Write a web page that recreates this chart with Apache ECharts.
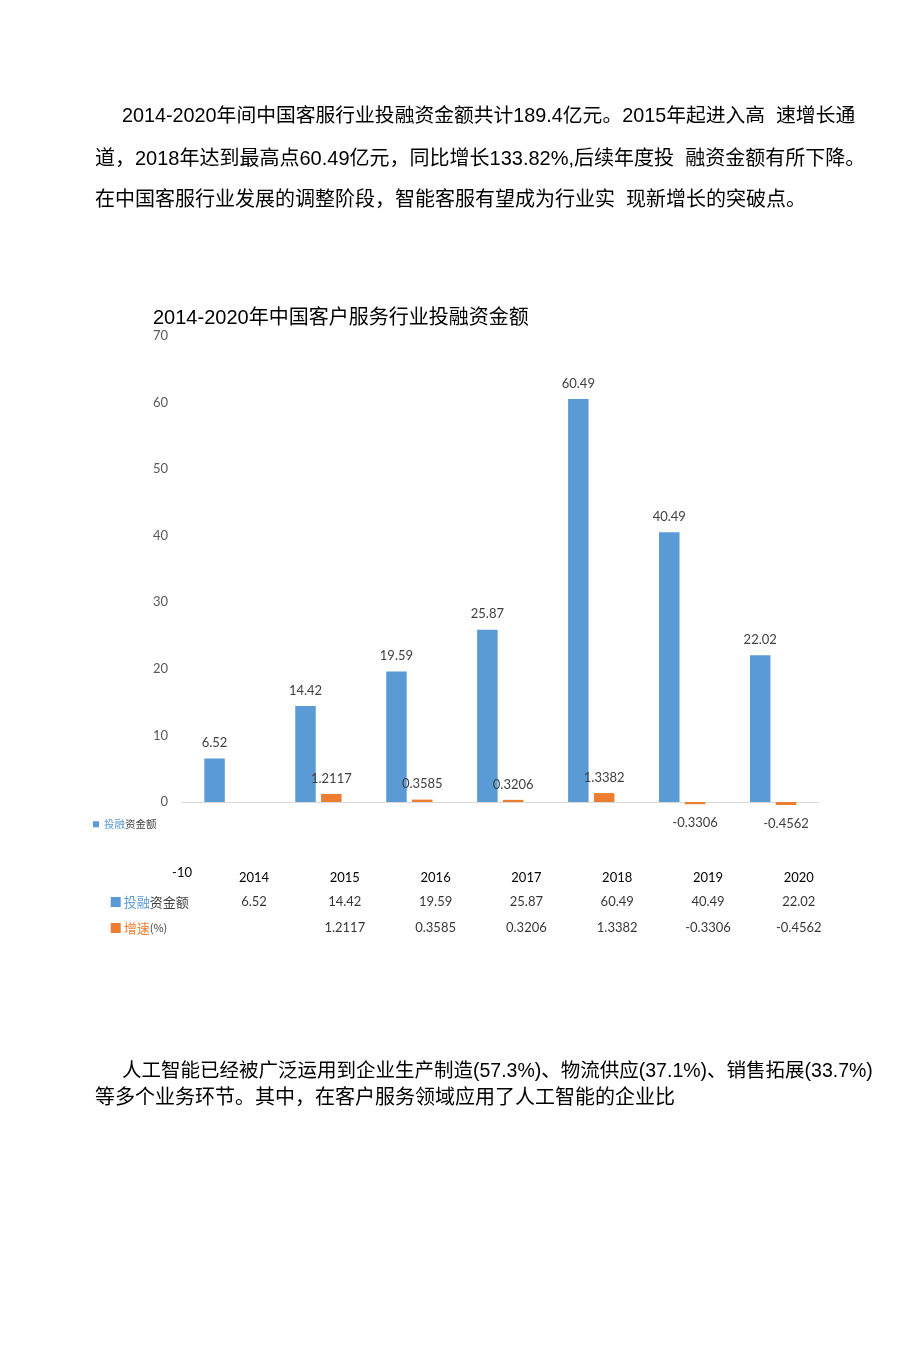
<!DOCTYPE html>
<html>
<head>
<meta charset="utf-8">
<script src="https://cdn.jsdelivr.net/npm/echarts@6/dist/echarts.min.js"></script>
<style>
html,body{margin:0;padding:0;background:#fff;}
#main{width:920px;height:1352px;}
</style>
</head>
<body>
<div id="main"></div>
<script>
const years = ['2014', '2015', '2016', '2017', '2018', '2019', '2020'];
const investment = [6.52, 14.42, 19.59, 25.87, 60.49, 40.49, 22.02];
const growth = [null, 1.2117, 0.3585, 0.3206, 1.3382, -0.3306, -0.4562];
const rowNames = ['投融资金额', '增速(%)'];
const chartTitle = '2014-2020年中国客户服务行业投融资金额';
const introLines = [
  '2014-2020年间中国客服行业投融资金额共计189.4亿元。2015年起进入高  速增长通',
  '道，2018年达到最高点60.49亿元，同比增长133.82%,后续年度投  融资金额有所下降。',
  '在中国客服行业发展的调整阶段，智能客服有望成为行业实  现新增长的突破点。'
];
const outroLines = [
  '人工智能已经被广泛运用到企业生产制造(57.3%)、物流供应(37.1%)、销售拓展(33.7%)',
  '等多个业务环节。其中，在客户服务领域应用了人工智能的企业比'
];

const BLUE = '#5b9bd5', ORANGE = '#ed7d31';
const bodyFont = "'Liberation Sans', Arial, 'Noto Sans CJK SC', sans-serif";
const numFont = "Lato, 'Noto Sans', sans-serif";

const chart = echarts.init(document.getElementById('main'), null, {renderer: 'canvas'});

const textEl = (t, x, y, size) => ({
  type: 'text', x: x, y: y, silent: true,
  style: {text: t, fontSize: size, fontFamily: bodyFont, fill: '#000', textVerticalAlign: 'middle'}
});

const tableData1 = investment.map((v, i) => [years[i], rowNames[0], v]);
const tableData2 = growth.map((v, i) => [years[i], rowNames[1], v]).filter(d => d[2] !== null);

chart.setOption({
  animation: false,
  backgroundColor: '#fff',
  graphic: [
    textEl(introLines[0], 122, 117, 19.8),
    textEl(introLines[1], 95, 159, 20),
    textEl(introLines[2], 95, 200, 20),
    textEl(chartTitle, 153, 318, 20),
    textEl(outroLines[0], 122, 1072, 19.5),
    textEl(outroLines[1], 95, 1098, 20)
  ],
  legend: {
    data: [rowNames[0]],
    left: 93, top: 819, padding: 0,
    icon: 'rect', itemWidth: 6, itemHeight: 6,
    formatter: () => '{a|投融}{b|资金额}',
    textStyle: {
      fontSize: 10.5, fontFamily: "'Noto Sans CJK SC', sans-serif",
      rich: {
        a: {color: BLUE, fontSize: 10.5, fontFamily: "'Noto Sans CJK SC', sans-serif"},
        b: {color: '#404040', fontSize: 10.5, fontFamily: "'Noto Sans CJK SC', sans-serif"}
      }
    }
  },
  grid: [
    {left: 182, width: 636.6, top: 335.7, height: 532.9},
    {left: 208.6, width: 635.6, top: 889, height: 52}
  ],
  xAxis: [
    {
      type: 'category', gridIndex: 0, data: years,
      axisLine: {show: true, onZero: true, lineStyle: {color: '#d9d9d9', width: 1}},
      axisTick: {show: false}, axisLabel: {show: false}, splitLine: {show: false}
    },
    {
      type: 'category', gridIndex: 1, data: years, position: 'top',
      axisLine: {show: false}, axisTick: {show: false}, splitLine: {show: false},
      axisLabel: {margin: 5, color: '#000', fontSize: 13, fontFamily: numFont}
    }
  ],
  yAxis: [
    {
      type: 'value', gridIndex: 0, min: -10, max: 70, interval: 10, position: 'left',
      axisLine: {show: false}, axisTick: {show: false}, splitLine: {show: false},
      axisLabel: {margin: 14, color: '#595959', fontSize: 13, fontFamily: numFont,
        formatter: v => (v === -10 ? '' : String(v))}
    },
    {
      type: 'value', gridIndex: 0, min: -10, max: 70, interval: 10, position: 'left', offset: -18,
      axisLine: {show: false}, axisTick: {show: false}, splitLine: {show: false},
      axisLabel: {margin: 8, color: '#000', fontSize: 13, fontFamily: numFont,
        formatter: v => (v === -10 ? '{m|' + v + '}' : ''),
        rich: {m: {color: '#000', fontSize: 13, fontFamily: numFont, padding: [8, 0, 0, 0]}}}
    },
    {
      type: 'category', gridIndex: 1, data: rowNames, inverse: true,
      axisLine: {show: false}, axisTick: {show: false}, splitLine: {show: false},
      axisLabel: {
        align: 'left', margin: 97.9,
        formatter: v => (v === rowNames[0] ? '{sb| }{b|投融}{d|资金额}' : '{so| }{o|增速}{p|(%)}'),
        rich: {
          sb: {backgroundColor: BLUE, width: 10, height: 10},
          so: {backgroundColor: ORANGE, width: 10, height: 10},
          b: {color: BLUE, fontSize: 13, padding: [0, 0, 0, 3], fontFamily: "'Noto Sans CJK SC', sans-serif"},
          o: {color: ORANGE, fontSize: 13, padding: [0, 0, 0, 3], fontFamily: "'Noto Sans CJK SC', sans-serif"},
          d: {color: '#404040', fontSize: 13, fontFamily: "'Noto Sans CJK SC', sans-serif"},
          p: {color: '#404040', fontSize: 11, fontFamily: "'Noto Sans CJK SC', sans-serif"}
        }
      }
    }
  ],
  series: [
    {
      name: rowNames[0], type: 'bar', xAxisIndex: 0, yAxisIndex: 0,
      data: investment, barWidth: 20.5, barGap: '26%',
      itemStyle: {color: BLUE},
      label: {show: true, position: 'top', distance: 9, color: '#404040', fontSize: 13, fontFamily: numFont}
    },
    {
      name: rowNames[1], type: 'bar', xAxisIndex: 0, yAxisIndex: 0,
      data: growth.map(v => (v === null ? '-' : {value: v, label: {distance: v < 0 ? 12 : 9}})),
      barWidth: 20.5, barGap: '26%',
      itemStyle: {color: ORANGE},
      label: {show: true, position: 'outside', distance: 9, color: '#404040', fontSize: 13, fontFamily: numFont}
    },
    {
      type: 'scatter', xAxisIndex: 1, yAxisIndex: 2, data: tableData1,
      symbolSize: 1, itemStyle: {color: 'rgba(0,0,0,0)'}, silent: true,
      label: {show: true, position: 'inside', color: '#000', fontSize: 13, fontFamily: numFont,
        formatter: p => String(p.value[2])}
    },
    {
      type: 'scatter', xAxisIndex: 1, yAxisIndex: 2, data: tableData2,
      symbolSize: 1, itemStyle: {color: 'rgba(0,0,0,0)'}, silent: true,
      label: {show: true, position: 'inside', color: '#000', fontSize: 13, fontFamily: numFont,
        formatter: p => String(p.value[2])}
    }
  ]
});
</script>
</body>
</html>
